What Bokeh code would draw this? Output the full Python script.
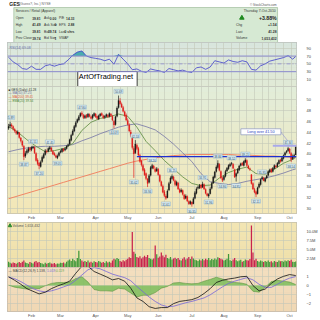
import numpy as np
import pandas as pd
from bokeh.plotting import figure
from bokeh.layouts import column
from bokeh.models import Range1d, FixedTicker, Span, ColumnDataSource, Grid
from bokeh.embed import file_html
from bokeh.resources import INLINE
from bokeh.core.properties import value

# ---------------- data ----------------
HOLIDAYS = ["2010-01-18", "2010-02-15", "2010-04-02", "2010-05-31", "2010-07-05", "2010-09-06"]
MONTH_LABELS = ["Feb", "Mar", "Apr", "May", "Jun", "Jul", "Aug", "Sep", "Oct"]

open_ = [44.7, 45.1, 45.3, 45.0, 44.5, 44.1, 43.7, 43.9, 42.9, 42.3,
         41.4, 39.6, 40.2, 40.5, 41.1, 40.8, 41.1, 41.2, 40.1, 38.9,
         38.3, 37.7, 38.6, 39.3, 39.9, 40.5, 40.5, 40.9, 41.1, 40.5,
         40.1, 39.7, 39.3, 39.7, 40.3, 40.4, 40.9, 40.7, 41.0, 41.5,
         41.8, 42.5, 43.5, 44.2, 45.0, 45.8, 46.2, 46.9, 47.5, 47.1,
         46.6, 47.1, 46.8, 47.2, 46.8, 46.6, 47.0, 47.3, 46.9, 46.4,
         47.0, 47.4, 47.0, 46.7, 46.9, 47.1, 46.9, 47.3, 46.9, 46.0,
         45.4, 46.9, 48.5, 49.7, 49.1, 48.5, 47.7, 47.1, 46.1, 45.3,
         44.0, 43.2, 41.0, 40.2, 41.6, 41.0, 39.7, 38.7, 37.9, 37.1,
         36.4, 35.4, 34.8, 36.1, 37.4, 37.8, 37.2, 36.9, 37.2, 36.1,
         34.9, 34.1, 33.1, 32.3, 32.0, 33.4, 34.7, 35.5, 35.8, 35.1,
         34.3, 34.7, 33.5, 33.1, 33.3, 32.5, 31.9, 32.2, 31.3, 30.9,
         31.2, 30.9, 31.9, 32.8, 33.7, 33.8, 34.3, 33.9, 34.4, 33.5,
         32.7, 32.3, 32.7, 33.7, 34.7, 35.7, 36.8, 37.5, 38.1, 36.8,
         35.5, 35.3, 35.9, 36.9, 37.3, 37.8, 38.3, 38.1, 37.1, 35.9,
         36.5, 37.1, 37.9, 38.3, 37.9, 38.5, 38.8, 37.8, 37.3, 36.2,
         34.6, 33.5, 33.1, 32.7, 33.9, 34.4, 35.4, 35.6, 35.0, 35.6,
         36.1, 36.7, 37.2, 36.8, 37.3, 37.8, 37.7, 38.2, 38.9, 38.7,
         39.2, 39.8, 40.3, 40.6, 40.9, 40.1, 39.1, 39.5, 39.81]

high = [45.5, 45.89, 45.6, 45.2, 44.7, 44.3, 44.3, 44.0, 43.1, 42.5,
        41.6, 40.5, 40.9, 41.3, 41.3, 41.4, 41.51, 41.4, 40.3, 39.2,
        38.5, 38.8, 39.7, 40.2, 40.9, 40.8, 41.2, 41.45, 41.3, 40.7,
        40.3, 39.9, 39.9, 40.4, 40.7, 41.1, 41.1, 41.2, 41.6, 41.9,
        42.8, 43.7, 44.5, 45.3, 46.0, 46.5, 47.1, 47.6, 47.80, 47.3,
        47.2, 47.3, 47.5, 47.4, 47.0, 47.3, 47.6, 47.5, 47.0, 47.2,
        47.5, 47.6, 47.2, 47.1, 47.4, 47.3, 47.6, 47.5, 47.1, 46.2,
        47.0, 48.7, 50.69, 50.2, 49.4, 48.8, 47.9, 47.4, 46.5, 45.6,
        44.4, 43.6, 41.4, 42.53, 41.9, 41.3, 40.0, 38.9, 38.2, 37.4,
        36.6, 35.6, 36.3, 37.8, 38.2, 38.0, 37.5, 37.6, 37.4, 36.3,
        35.1, 34.4, 33.4, 32.6, 33.5, 34.9, 35.9, 36.25, 36.0, 35.3,
        35.1, 34.9, 33.7, 33.7, 33.5, 32.7, 32.6, 32.4, 31.5, 31.5,
        31.3, 32.1, 33.2, 33.9, 34.2, 34.5, 34.5, 34.91, 34.6, 33.7,
        32.9, 32.8, 33.9, 34.9, 36.0, 36.9, 37.9, 38.84, 38.3, 37.0,
        35.8, 36.1, 37.1, 37.6, 38.1, 38.4, 38.52, 38.3, 37.3, 36.6,
        37.4, 38.0, 38.4, 38.5, 38.8, 39.21, 39.0, 38.0, 37.5, 36.3,
        34.8, 33.8, 33.3, 34.0, 34.8, 35.5, 35.95, 35.8, 35.7, 36.2,
        37.0, 37.3, 37.4, 37.6, 38.1, 38.0, 38.5, 39.0, 39.1, 39.5,
        39.9, 40.4, 40.7, 41.34, 41.1, 40.3, 39.9, 40.0, 41.49]

low = [44.4, 44.8, 44.8, 44.3, 43.9, 43.5, 43.5, 42.8, 42.1, 41.3,
       38.87, 39.3, 39.9, 40.2, 40.4, 40.5, 40.9, 40.0, 38.6, 37.9,
       37.20, 37.5, 38.4, 39.1, 39.7, 40.1, 40.3, 40.7, 40.4, 39.8,
       39.6, 39.2, 39.05, 39.5, 40.1, 40.2, 40.4, 40.5, 40.8, 41.3,
       41.6, 42.3, 43.3, 44.0, 44.8, 45.6, 46.0, 46.7, 46.9, 46.4,
       46.4, 46.5, 46.6, 46.7, 46.3, 46.3, 46.8, 46.6, 46.3, 46.2,
       46.8, 46.9, 46.4, 46.4, 46.7, 46.6, 46.7, 46.8, 46.0, 44.69,
       45.2, 46.7, 48.3, 49.0, 48.4, 47.6, 46.8, 46.0, 45.2, 44.0,
       43.1, 40.8, 35.62, 40.0, 40.7, 39.6, 38.4, 37.7, 36.8, 36.0,
       35.2, 33.94, 34.6, 35.9, 37.2, 37.2, 36.6, 36.7, 36.0, 34.8,
       34.0, 32.8, 32.1, 31.61, 31.9, 33.2, 34.5, 35.3, 35.0, 34.1,
       34.1, 33.4, 32.8, 32.9, 32.4, 31.6, 31.7, 31.2, 30.7, 30.7,
       30.35, 30.8, 31.7, 32.6, 33.5, 33.6, 33.6, 33.8, 33.4, 32.6,
       32.2, 31.96, 32.6, 33.5, 34.5, 35.5, 36.6, 37.3, 36.8, 35.4,
       34.86, 35.1, 35.7, 36.7, 37.1, 37.6, 37.9, 37.2, 35.6, 34.95,
       36.3, 36.9, 37.7, 37.8, 37.7, 38.3, 37.7, 37.2, 36.9, 34.4,
       33.4, 32.8, 32.11, 32.6, 33.7, 34.2, 35.2, 35.0, 34.8, 35.4,
       35.9, 36.5, 36.5, 36.6, 37.2, 37.4, 37.5, 38.1, 38.4, 38.5,
       39.0, 39.6, 40.1, 40.4, 40.0, 38.54, 38.9, 39.3, 39.81]

close = [45.0, 45.4, 45.1, 44.6, 44.2, 43.8, 44.0, 43.0, 42.4, 41.6,
         39.5, 40.1, 40.6, 41.0, 40.7, 41.2, 41.3, 40.2, 38.8, 38.2,
         37.8, 38.5, 39.4, 39.9, 40.6, 40.4, 41.0, 41.2, 40.6, 40.0,
         39.8, 39.4, 39.6, 40.2, 40.5, 40.9, 40.6, 41.0, 41.4, 41.7,
         42.6, 43.4, 44.2, 45.0, 45.7, 46.3, 46.8, 47.4, 47.2, 46.6,
         47.0, 46.7, 47.3, 46.9, 46.5, 47.1, 47.4, 46.8, 46.5, 47.0,
         47.3, 47.1, 46.6, 46.9, 47.2, 46.8, 47.4, 47.0, 46.2, 45.3,
         46.8, 48.4, 49.8, 49.2, 48.6, 47.8, 47.0, 46.2, 45.4, 44.2,
         43.4, 41.2, 40.0, 41.8, 41.0, 39.8, 38.6, 38.0, 37.0, 36.2,
         35.5, 34.6, 36.0, 37.5, 37.9, 37.4, 36.8, 37.3, 36.2, 35.0,
         34.2, 33.0, 32.4, 31.9, 33.2, 34.6, 35.6, 35.9, 35.2, 34.4,
         34.8, 33.6, 33.0, 33.4, 32.6, 31.8, 32.3, 31.4, 30.9, 31.3,
         30.8, 31.8, 32.9, 33.6, 33.9, 34.2, 33.8, 34.5, 33.6, 32.8,
         32.4, 32.6, 33.6, 34.6, 35.8, 36.7, 37.6, 38.3, 37.0, 35.6,
         35.2, 35.9, 36.8, 37.4, 37.9, 38.1, 38.2, 37.4, 35.8, 36.4,
         37.2, 37.8, 38.2, 38.0, 38.6, 38.9, 37.9, 37.4, 37.2, 34.6,
         33.6, 33.0, 32.6, 33.8, 34.5, 35.3, 35.7, 35.1, 35.5, 36.0,
         36.8, 37.1, 36.7, 37.4, 37.9, 37.6, 38.3, 38.8, 38.6, 39.3,
         39.7, 40.2, 40.5, 41.0, 40.2, 39.0, 39.6, 39.74, 41.28]

volume_m = [1.6, 1.3, 1.1, 1.4, 1.2, 1.0, 1.3, 1.5, 1.2, 1.6,
            1.9, 1.4, 1.2, 1.0, 1.5, 1.3, 1.1, 1.6, 1.8, 1.4,
            1.5, 1.2, 1.1, 0.9, 1.3, 1.0, 1.2, 1.4, 1.1, 1.0,
            1.2, 0.9, 1.1, 1.0, 1.3, 1.2, 1.4, 1.1, 1.6, 1.9,
            2.2, 1.8, 2.4, 2.0, 1.7, 2.6, 4.6, 2.3, 1.9, 1.6,
            1.8, 1.5, 1.9, 1.4, 1.6, 1.3, 1.7, 1.5, 1.4, 1.8,
            1.6, 1.3, 1.5, 1.2, 1.7, 1.4, 1.6, 1.3, 1.9, 2.4,
            2.2, 2.6, 2.3, 1.8, 1.6, 2.0, 1.7, 2.1, 2.4, 2.8,
            2.6, 9.7, 4.3, 3.8, 2.9, 2.7, 3.1, 2.5, 2.8, 3.2,
            2.9, 3.4, 2.6, 2.4, 2.2, 2.5, 6.0, 3.6, 2.7, 3.0,
            4.1, 3.3, 2.8, 3.5, 2.6, 2.4, 2.9, 2.2, 2.5, 2.7,
            2.3, 2.6, 2.1, 1.9, 2.4, 2.8, 2.2, 2.5, 2.9, 2.3,
            3.0, 2.5, 2.1, 2.0, 1.8, 2.2, 1.9, 2.3, 2.0, 2.4,
            2.1, 2.6, 2.0, 2.3, 2.1, 2.5, 2.2, 2.8, 2.6, 2.4,
            2.2, 1.9, 2.1, 2.4, 3.7, 2.0, 1.8, 2.2, 2.6, 2.0,
            1.7, 1.9, 2.1, 1.6, 1.8, 2.2, 2.0, 1.9, 2.3, 11.5,
            4.1, 2.0, 2.4, 1.8, 1.6, 1.9, 1.7, 1.5, 1.8, 1.6,
            1.9, 1.5, 1.7, 1.4, 1.8, 1.6, 1.5, 1.9, 1.7, 1.8,
            1.6, 1.9, 1.7, 2.0, 1.8, 2.1, 1.6, 1.5, 1.65]

# moving averages, sampled every 6 trading days (+ last day)
ma_day = [0, 6, 12, 18, 24, 30, 36, 42, 48, 54, 60, 66, 72, 78, 84, 90, 96,
          102, 108, 114, 120, 126, 132, 138, 144, 150, 156, 162, 168, 174, 180, 186, 188]
ma50 = [40.4, 40.8, 41.1, 41.3, 41.4, 41.4, 41.5, 41.7, 42.4, 43.0, 43.7, 44.3, 44.9,
        45.3, 45.5, 45.0, 44.4, 43.2, 41.8, 40.2, 38.6, 36.4, 34.9, 34.6, 34.4, 34.6,
        35.0, 35.3, 35.6, 36.0, 36.5, 37.1, 37.25]
ma200 = [31.8, 32.3, 32.8, 33.3, 33.8, 34.3, 34.8, 35.3, 35.8, 36.3, 36.8, 37.3, 37.8,
         38.3, 38.7, 39.0, 39.3, 39.5, 39.7, 39.8, 39.9, 39.9, 39.9, 39.9, 39.9, 39.8,
         39.8, 39.7, 39.6, 39.6, 39.5, 39.4, 39.41]
ema20 = [45.0, 44.0, 42.6, 41.4, 40.4, 40.6, 41.0, 41.9, 44.3, 45.8, 46.5, 46.8, 47.3,
         46.9, 44.9, 42.3, 40.6, 38.8, 37.3, 35.8, 34.6, 34.2, 34.3, 35.6, 36.6, 37.2,
         37.6, 36.4, 36.3, 37.2, 38.3, 39.0, 39.34]

# RSI(14), sampled every 3 trading days (+ last day)
rsi_day = list(range(0, 187, 3)) + [188]
rsi = [67, 55, 48, 38, 36, 44, 36, 36, 45, 48, 44, 48, 50, 60, 72, 80, 83, 70, 66, 64,
       62, 58, 62, 49, 74, 62, 50, 35, 37, 31, 28, 37, 34, 32, 28, 38, 35, 32, 34, 30,
       28, 40, 42, 36, 42, 58, 55, 52, 60, 56, 54, 58, 55, 36, 34, 45, 50, 57, 60, 63,
       66, 71, 62, 69.08]

# MACD(12,26,9), sampled every 4 trading days
macd_day = list(range(0, 189, 4))
macd = [1.0, 0.6, 0.15, -0.35, -0.65, -0.95, -0.75, -0.35, -0.05, 0.2, 0.5, 1.4, 2.2,
        2.2, 1.6, 1.3, 1.0, 0.65, 0.8, 0.5, -0.3, -1.4, -1.8, -2.4, -2.6, -2.5, -2.5,
        -2.05, -1.8, -1.7, -1.6, -1.35, -0.9, -0.35, 0.35, 0.6, 0.75, 0.85, 1.0, 1.05,
        0.0, -0.6, -0.4, 0.25, 0.75, 1.05, 1.25, 1.138]
signal = [0.95, 0.78, 0.45, 0.05, -0.35, -0.6, -0.72, -0.6, -0.4, -0.15, 0.1, 0.6, 1.2,
          1.8, 2.05, 1.9, 1.6, 1.3, 1.1, 0.9, 0.55, -0.1, -0.7, -1.3, -1.8, -2.2, -2.4,
          -2.35, -2.15, -1.95, -1.8, -1.6, -1.4, -1.05, -0.6, -0.15, 0.25, 0.5, 0.7, 0.9,
          0.65, 0.15, -0.2, -0.2, 0.15, 0.55, 0.85, 1.019]

# annotated swing points (day index, H = high / L = low)
swing_day = [1, 10, 16, 20, 27, 32, 48, 69, 72, 82, 83, 91, 94, 103, 107, 120, 127, 131,
             137, 140, 146, 149, 155, 162, 166, 183, 185]
swing_kind = ["H", "L", "H", "L", "H", "L", "H", "L", "H", "L", "H", "L", "H", "L", "H",
              "L", "H", "L", "H", "L", "H", "L", "H", "L", "H", "H", "L"]

BREAKOUT_LEVEL = 41.50
SUPPORT_LEVEL = 39.50
SUPPORT_FROM_DAY = 84
BREAKOUT_FROM_DAY = 173

info_left = [["Open", "39.81", "Ask", "0.00", "P/E", "14.33"],
             ["High", "41.49", "Ask Size", "0", "EPS", "2.88"],
             ["Low", "39.81", "Bid", "39.74", "Last", "0 shrs"],
             ["Prev Close", "39.74", "Bid Size", "1", "VWAP", ""]]
info_right = [["Chg", "+1.54"], ["Last", "41.28"], ["Volume", "1,653,432"]]

# ---------------- layout helpers ----------------
F = "Liberation Sans"
FV = value(F)
dates = pd.bdate_range("2010-01-08", "2010-10-07")
dates = dates[~dates.isin(pd.to_datetime(HOLIDAYS))]
n = len(dates)
day = list(range(n))
month_idx = [int(np.argmax(dates.month == m)) for m in range(2, 11)]
week_idx = [i for i in range(1, n) if dates[i].weekday() < dates[i - 1].weekday()]

XS, XE = -0.7, n - 0.5
FW = 292
XR = Range1d(XS, XE)


def xd(px):
    return XS + (px - 7) * (XE - XS) / FW


def blend(c1, c2, t):
    a = [int(c1[i:i + 2], 16) for i in (1, 3, 5)]
    b = [int(c2[i:i + 2], 16) for i in (1, 3, 5)]
    return "#%02x%02x%02x" % tuple(int(round(a[k] + (b[k] - a[k]) * t)) for k in range(3))


def panel(fh, y0, y1, yticks, ctop, cbot, xaxis=False, bb=0, overrides=None):
    p = figure(width=320, height=fh + bb, x_range=XR, y_range=Range1d(y0, y1),
               output_backend="svg", toolbar_location=None,
               x_axis_location="below" if xaxis else None, y_axis_location="right",
               min_border_left=7, min_border_right=21, min_border_top=0, min_border_bottom=bb)
    p.outline_line_color = "#9c9c9c"
    p.outline_line_width = 0.8
    p.background_fill_color = cbot
    p.border_fill_color = "white"
    nb = 20
    edges = np.linspace(y0, y1, nb + 1)
    cols = [blend(cbot, ctop, (k + 0.5) / nb) for k in range(nb)]
    p.quad(left=XS, right=XE, bottom=edges[:-1], top=edges[1:], fill_color=cols,
           line_color=cols, line_width=0.6, level="image")
    ax = p.yaxis[0]
    ax.ticker = FixedTicker(ticks=yticks)
    ax.major_label_text_font_size = "4px"
    ax.major_label_text_font = F
    ax.major_label_text_color = "#444444"
    ax.axis_line_color = None
    ax.major_tick_line_color = None
    ax.minor_tick_line_color = None
    ax.major_label_standoff = 4
    if overrides:
        ax.major_label_overrides = overrides
    if len(p.ygrid):
        p.ygrid.ticker = FixedTicker(ticks=yticks)
    else:
        p.add_layout(Grid(dimension=1, ticker=FixedTicker(ticks=yticks)), "center")
    if len(p.xgrid):
        p.xgrid.ticker = FixedTicker(ticks=week_idx)
    else:
        p.add_layout(Grid(dimension=0, ticker=FixedTicker(ticks=week_idx)), "center")
    for g in list(p.xgrid) + list(p.ygrid):
        g.grid_line_color = "#c2c8b8"
        g.grid_line_width = 0.6
    if xaxis:
        xa = p.xaxis[0]
        xa.ticker = FixedTicker(ticks=month_idx)
        xa.major_label_overrides = {m: lab for m, lab in zip(month_idx, MONTH_LABELS)}
        xa.major_label_text_font_size = "4px"
        xa.major_label_text_font = F
        xa.major_label_text_color = "#555555"
        xa.axis_line_color = None
        xa.major_tick_line_color = None
        xa.major_tick_out = 0
        xa.minor_tick_line_color = None
        xa.minor_tick_out = 0
        xa.major_label_standoff = 1
    return p


def ytop(p, fh, px):
    r = p.y_range
    return r.end - px * (r.end - r.start) / fh


# ---------------- header ----------------
hdr = figure(width=320, height=42, x_range=Range1d(0, 320), y_range=Range1d(42, 0),
             output_backend="svg", toolbar_location=None, x_axis_location=None,
             y_axis_location=None, min_border=0)
hdr.outline_line_color = None
hdr.grid.visible = False
hdr.background_fill_color = "white"
hdr.quad(left=7, right=299, top=7, bottom=42.5, fill_color="#d6e9d3", line_color="#a9c4a6", line_width=0.8)


def htext(x, y, t, size="3.3px", align="left", color="#333333", style="normal"):
    hdr.text(x=[x], y=[y], text=[t], text_font=FV, text_font_size=size, text_align=align,
             text_baseline="middle", text_color=color, text_font_style=style)


htext(2, 3.8, "GES", "5px", style="bold", color="#222222")
htext(13, 3.8, "(Guess?, Inc.) NYSE", "3.4px", color="#666666")
htext(298, 3.8, "\u00a9 StockCharts.com", "3.1px", align="right", color="#555555")
htext(9, 10.7, "Services / Retail (Apparel)", "3.4px")
for r, row in enumerate(info_left):
    yy = 17.6 + r * 6.7
    htext(9, yy, row[0])
    htext(36.5, yy, row[1], align="right", style="bold")
    htext(40.5, yy, row[2])
    htext(54, yy, row[3], align="right", style="bold")
    htext(57, yy, row[4])
    htext(74, yy, row[5], align="right", style="bold")
htext(298, 10.7, "Thursday  7-Oct-2010", "3.4px", align="right")
hdr.scatter(x=[259.5], y=[17.4], marker="triangle", size=4.5, color="#1e8a1e")
htext(298, 17.6, "+3.88%", "5.2px", align="right", color="#222222", style="bold")
for r, row in enumerate(info_right):
    yy = 24.3 + r * 6.7
    htext(253, yy, row[0], "3.4px")
    htext(298, yy, row[1], "3.4px", align="right", style="bold")

# ---------------- RSI panel ----------------
RSI_H = 44
prsi = panel(RSI_H, -7.9, 104.6, [10, 30, 50, 70, 90], "#d9e6de", "#e1ead6")
prsi.add_layout(Span(location=70, dimension="width", line_color="#8d8dd2", line_width=1))
prsi.add_layout(Span(location=30, dimension="width", line_color="#8d8dd2", line_width=1))
prsi.add_layout(Span(location=50, dimension="width", line_color="#8d8dd2", line_width=0.8,
                     line_dash="4 2 1 2"))
rsi_top = [max(v, 70) for v in rsi]
prsi.varea(x=rsi_day, y1=[70] * len(rsi_day), y2=rsi_top, fill_color="#3aa5a8", fill_alpha=0.9)
prsi.line(rsi_day, rsi, line_color="#3d3dcc", line_width=0.8)
prsi.text(x=[xd(9)], y=[ytop(prsi, RSI_H, 5)], text=["RSI(14) 69.08"], text_font=FV,
          text_font_size="3.4px", text_baseline="middle", text_color="#5a6aa8")
prsi.quad(left=[xd(78)], right=[xd(138)], top=[ytop(prsi, RSI_H, 29)], bottom=[ytop(prsi, RSI_H, 44.5)],
          fill_color="white", line_color="#111111", line_width=0.8)
prsi.text(x=[xd(79)], y=[ytop(prsi, RSI_H, 33.5)], text=["ArtOfTrading.net"], text_font=FV,
          text_font_size="7.4px", text_baseline="middle", text_color="#000000")

# ---------------- price panel ----------------
P_H = 129
pp = panel(P_H, 29.10, 52.34, list(range(30, 52, 2)), "#e2edda", "#f3e7b6", xaxis=True, bb=7)
prev = [close[0]] + close[:-1]
ccol = ["#e01d1d" if c < pc else "#1c1c1c" for c, pc in zip(close, prev)]
src = ColumnDataSource(dict(d=day, h=high, l=low, top=[max(o, c) for o, c in zip(open_, close)],
                            bot=[min(o, c) for o, c in zip(open_, close)], col=ccol))
pp.line(ma_day, ma200, line_color="#f27a5a", line_width=0.9)
pp.line(ma_day, ma50, line_color="#7474a6", line_width=0.8)
pp.line(ma_day, ema20, line_color="#5b8a3e", line_width=0.8)
pp.segment(x0="d", y0="l", x1="d", y1="h", line_color="col", line_width=0.7, source=src)
pp.vbar(x="d", top="top", bottom="bot", width=0.8, fill_color="col", line_color="col",
        line_width=0.2, source=src)
pp.segment(x0=[SUPPORT_FROM_DAY], y0=[SUPPORT_LEVEL], x1=[XE], y1=[SUPPORT_LEVEL],
           line_color="#1f2fd0", line_width=1.4)
pp.segment(x0=[BREAKOUT_FROM_DAY], y0=[BREAKOUT_LEVEL], x1=[XE], y1=[BREAKOUT_LEVEL],
           line_color="#a9a9ea", line_width=2)

pxu = (52.34 - 29.10) / P_H
sx, sy, st = [], [], []
for d_, k in zip(swing_day, swing_kind):
    v = high[d_] if k == "H" else low[d_]
    sx.append(d_)
    sy.append(v + 4.2 * pxu if k == "H" else v - 4.2 * pxu)
    st.append("%.2f" % v)
pp.rect(x=sx, y=sy, width=9, height=4, width_units="screen", height_units="screen",
        fill_color="#dcebf1", line_color="#8fb2c6", line_width=0.5)
pp.text(x=sx, y=sy, text=st, text_font=FV, text_font_size="2.9px", text_align="center",
        text_baseline="middle", text_color="#2f5568")

# breakout callout
cx = xd(263)
cy = ytop(pp, P_H, 46)
pp.segment(x0=[xd(283)], y0=[cy], x1=[xd(290)], y1=[ytop(pp, P_H, 55)], line_color="#8f8fd0",
           line_width=0.6)
pp.rect(x=[cx], y=[cy], width=40, height=6, width_units="screen", height_units="screen",
        fill_color="white", line_color="#7b86b8", line_width=0.6)
pp.text(x=[cx], y=[cy], text=["Long over %.2f" % BREAKOUT_LEVEL], text_font=FV,
        text_font_size="3.8px", text_align="center", text_baseline="middle", text_color="#2b3fbf")

# legend
leg = [("\u25a0 GES (Daily) %.2f" % close[-1], "#333333"),
       ("\u2014 MA(50) %.2f" % ma50[-1], "#6f6fa0"),
       ("\u2014 MA(200) %.2f" % ma200[-1], "#e05a3c"),
       ("\u2014 EMA(20) %.2f" % ema20[-1], "#4f8a3a")]
for k, (t, c) in enumerate(leg):
    pp.text(x=[xd(8)], y=[ytop(pp, P_H, 3 + k * 3.7)], text=[t], text_font=FV,
            text_font_size="3.1px", text_baseline="middle", text_color=c)

# ---------------- volume panel ----------------
V_H = 45
pv = panel(V_H, 0, 12.33e6, [2.5e6, 5e6, 7.5e6, 10e6], "#f2e5b4", "#efe0aa",
           overrides={2500000: "2.5M", 5000000: "5.0M", 7500000: "7.5M", 10000000: "10.0M"})
vcol = ["#c8234e" if c < pc else "#3f983a" for c, pc in zip(close, prev)]
pv.vbar(x=day, top=[v * 1e6 for v in volume_m], width=0.82, fill_color=vcol, line_color=None)
pv.text(x=[xd(12)], y=[12.33e6 - 3.2 * 12.33e6 / V_H], text=["Volume 1,653,432"], text_font=FV,
        text_font_size="3.4px", text_baseline="middle", text_color="#555555")
pv.scatter(x=[xd(9.5)], y=[12.33e6 - 3.2 * 12.33e6 / V_H], marker="triangle", size=3.5,
           color="#2e8b2e")

# ---------------- MACD panel ----------------
M_H = 46
pm = panel(M_H, -2.946, 2.054, [-2, -1, 0, 1], "#f3dfc0", "#f0d7b4", xaxis=True, bb=7)
hist = [m - s for m, s in zip(macd, signal)]
pm.varea(x=macd_day, y1=[0] * len(macd_day), y2=hist, fill_color="#7dbd5c", fill_alpha=0.85)
pm.line(macd_day, hist, line_color="#4d8a32", line_width=0.5)
pm.line(macd_day, signal, line_color="#7664d8", line_width=0.8)
pm.line(macd_day, macd, line_color="#111111", line_width=0.8)
my = ytop(pm, M_H, 3.5)
pm.text(x=[xd(8)], y=[my], text=["\u2014 MACD(12,26,9) %.3f," % macd[-1]], text_font=FV,
        text_font_size="3.3px", text_baseline="middle", text_color="#444444")
pm.text(x=[xd(47)], y=[my], text=["%.3f," % signal[-1]], text_font=FV,
        text_font_size="3.3px", text_baseline="middle", text_color="#7664d8")
pm.text(x=[xd(56)], y=[my], text=["%.3f" % (macd[-1] - signal[-1])], text_font=FV,
        text_font_size="3.3px", text_baseline="middle", text_color="#6aa84f")

layout = column(hdr, prsi, pp, pv, pm, spacing=0)
open("out.html", "w").write(file_html(layout, INLINE))
